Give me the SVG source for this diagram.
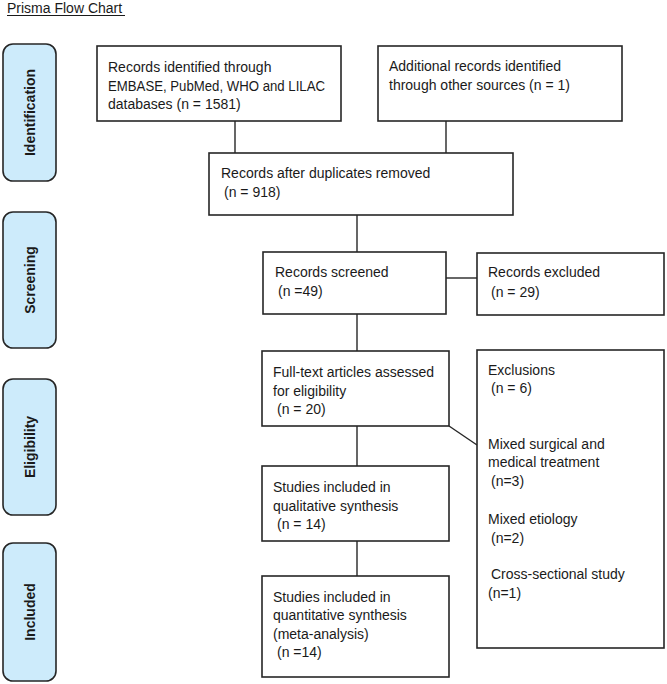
<svg xmlns="http://www.w3.org/2000/svg" width="667" height="684" viewBox="0 0 667 684">
<style>
.bg{fill:#ffffff}
.box{fill:#ffffff;stroke:#262626;stroke-width:1.6}
.stage{fill:#cdebfb;stroke:#262626;stroke-width:1.6}
.t{font-family:"Liberation Sans",Arial,sans-serif;font-size:14px;fill:#1a1a1a}
.s{font-family:"Liberation Sans",Arial,sans-serif;font-size:14px;font-weight:bold;fill:#1a1a1a;text-anchor:middle}
.ln{stroke:#262626;stroke-width:1.4;fill:none}
</style>
<rect class="bg" x="0" y="0" width="667" height="684"/>
<g id="title">
<text class="t" x="7" y="13">Prisma Flow Chart</text>
<line x1="7" y1="15.5" x2="125" y2="15.5" stroke="#1a1a1a" stroke-width="1"/>
</g>
<g id="stage-identification">
<rect class="stage" x="3" y="44" width="53" height="137" rx="10"/>
<text class="s" transform="translate(35,112.5) rotate(-90)">Identification</text>
</g>
<g id="stage-screening">
<rect class="stage" x="3" y="212" width="53" height="136" rx="10"/>
<text class="s" transform="translate(35,280) rotate(-90)">Screening</text>
</g>
<g id="stage-eligibility">
<rect class="stage" x="3" y="379" width="53" height="136" rx="10"/>
<text class="s" transform="translate(35,447) rotate(-90)">Eligibility</text>
</g>
<g id="stage-included">
<rect class="stage" x="3" y="543" width="53" height="138" rx="10"/>
<text class="s" transform="translate(35,612) rotate(-90)">Included</text>
</g>
<g id="connectors">
<line class="ln" x1="235" y1="121" x2="235" y2="153"/>
<line class="ln" x1="446" y1="121" x2="446" y2="153"/>
<line class="ln" x1="357" y1="215" x2="357" y2="252"/>
<line class="ln" x1="446" y1="278" x2="477" y2="278"/>
<line class="ln" x1="357" y1="314" x2="357" y2="351"/>
<line class="ln" x1="449" y1="426" x2="477" y2="445"/>
<line class="ln" x1="357" y1="426" x2="357" y2="466"/>
<line class="ln" x1="357" y1="541" x2="357" y2="576"/>
</g>
<g id="identified">
<rect class="box" x="97" y="46" width="244" height="75"/>
<text class="t" x="108" y="72">Records identified through</text>
<text class="t" x="108" y="90.5" textLength="217" lengthAdjust="spacingAndGlyphs">EMBASE, PubMed, WHO and LILAC</text>
<text class="t" x="108" y="109">databases (n = 1581)</text>
</g>
<g id="additional">
<rect class="box" x="378" y="46" width="244" height="75"/>
<text class="t" x="389" y="71">Additional records identified</text>
<text class="t" x="389" y="90">through other sources (n = 1)</text>
</g>
<g id="duplicates">
<rect class="box" x="209" y="153" width="304" height="62"/>
<text class="t" x="221" y="178">Records after duplicates removed</text>
<text class="t" x="224" y="197">(n = 918)</text>
</g>
<g id="screened">
<rect class="box" x="263" y="252" width="183" height="62"/>
<text class="t" x="275" y="277">Records screened</text>
<text class="t" x="278" y="296">(n =49)</text>
</g>
<g id="excluded">
<rect class="box" x="477" y="253" width="187" height="62"/>
<text class="t" x="488" y="277">Records excluded</text>
<text class="t" x="491" y="297">(n = 29)</text>
</g>
<g id="fulltext">
<rect class="box" x="262" y="351" width="187" height="75"/>
<text class="t" x="273" y="377">Full-text articles assessed</text>
<text class="t" x="273" y="395.5">for eligibility</text>
<text class="t" x="277" y="414">(n = 20)</text>
</g>
<g id="exclusions">
<rect class="box" x="477" y="350" width="187" height="298"/>
<text class="t" x="488" y="375">Exclusions</text>
<text class="t" x="491" y="393">(n = 6)</text>
<text class="t" x="488" y="449">Mixed surgical and</text>
<text class="t" x="488" y="467">medical treatment</text>
<text class="t" x="491" y="486">(n=3)</text>
<text class="t" x="488" y="524">Mixed etiology</text>
<text class="t" x="491" y="543">(n=2)</text>
<text class="t" x="491" y="579">Cross-sectional study</text>
<text class="t" x="488" y="598">(n=1)</text>
</g>
<g id="qualitative">
<rect class="box" x="262" y="466" width="187" height="75"/>
<text class="t" x="273" y="492">Studies included in</text>
<text class="t" x="273" y="510.5">qualitative synthesis</text>
<text class="t" x="277" y="529">(n = 14)</text>
</g>
<g id="quantitative">
<rect class="box" x="262" y="576" width="187" height="101"/>
<text class="t" x="273" y="602">Studies included in</text>
<text class="t" x="273" y="620">quantitative synthesis</text>
<text class="t" x="273" y="638.5">(meta-analysis)</text>
<text class="t" x="277" y="657">(n =14)</text>
</g>
</svg>
